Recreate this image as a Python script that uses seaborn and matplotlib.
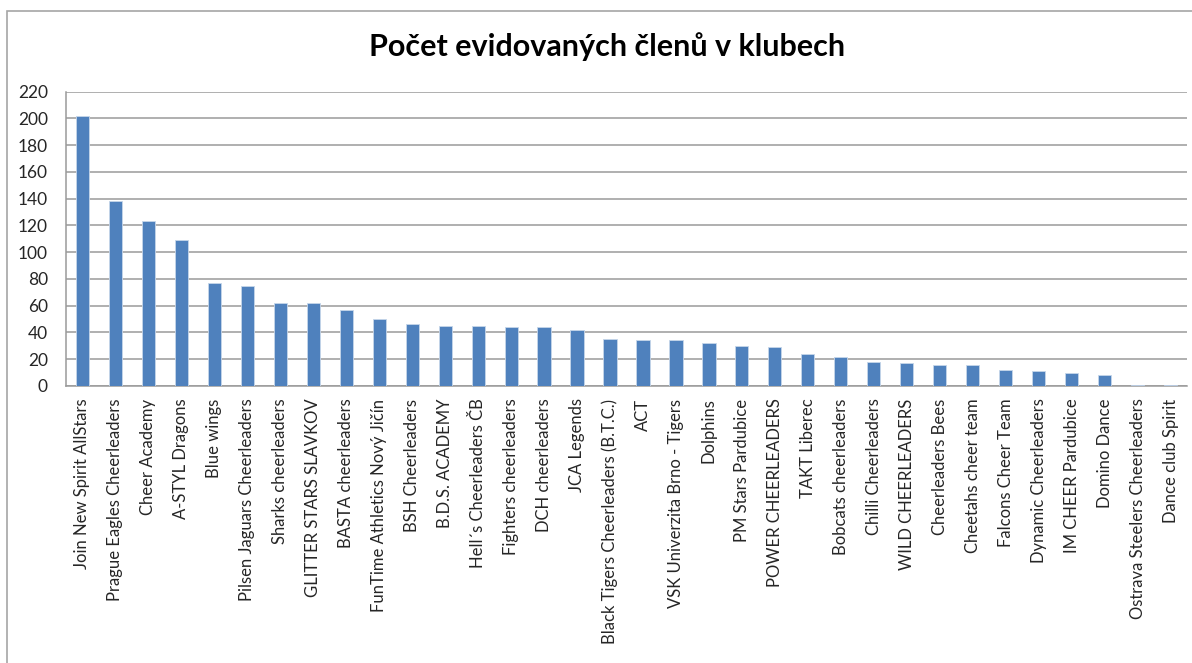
import matplotlib
matplotlib.use("Agg")
import matplotlib.pyplot as plt
import matplotlib.patches as patches
import pandas as pd
import seaborn as sns

clubs = [
    "Join New Spirit AllStars", "Prague Eagles Cheerleaders", "Cheer Academy", "A-STYL Dragons",
    "Blue wings", "Pilsen Jaguars Cheerleaders", "Sharks cheerleaders", "GLITTER STARS SLAVKOV",
    "BASTA cheerleaders", "FunTime Athletics Nový Jičín", "BSH Cheerleaders", "B.D.S. ACADEMY",
    "Hell´s Cheerleaders ČB", "Fighters cheerleaders", "DCH cheerleaders", "JCA Legends",
    "Black Tigers Cheerleaders (B.T.C.)", "ACT", "VSK Univerzita Brno - Tigers", "Dolphins",
    "PM Stars Pardubice", "POWER CHEERLEADERS", "TAKT Liberec", "Bobcats cheerleaders",
    "Chilli Cheerleaders", "WILD CHEERLEADERS", "Cheerleaders Bees", "Cheetahs cheer team",
    "Falcons Cheer Team", "Dynamic Cheerleaders", "IM CHEER Pardubice", "Domino Dance",
    "Ostrava Steelers Cheerleaders", "Dance club Spirit",
]
members = [202, 138, 123, 109, 77, 75, 62, 62, 57, 50, 46, 45, 45, 44, 44, 42, 35, 34, 34,
           32, 30, 29, 24, 22, 18, 17, 16, 16, 12, 11, 10, 8, 1, 1]
y_ticks = list(range(0, 221, 20))

sns.set_style("white")
plt.rcParams["font.family"] = ["Lato", "DejaVu Sans"]

df = pd.DataFrame({"club": clubs, "members": members})

fig = plt.figure(figsize=(11.92, 6.63), dpi=100)
ax = fig.add_axes([66 / 1192, 1 - 386 / 663, (1187 - 66) / 1192, (386 - 91.5) / 663])

# chart area border like the spreadsheet frame
fig.patches.append(patches.Rectangle((7 / 1192, -0.1), 1.2, 1.1 - 11 / 663, transform=fig.transFigure,
                                     fill=False, edgecolor="#a6a6a6", linewidth=1.2, zorder=0))

sns.barplot(data=df, x="club", y="members", color="#4f81bd", width=0.4, saturation=1, ax=ax, zorder=3)
for p in ax.patches:
    p.set_edgecolor("#c6d6ea")
    p.set_linewidth(0.6)

ax.set_ylim(0, 220)
ax.set_xlim(-0.5, len(clubs) - 0.5)
ax.set_yticks(y_ticks)
ax.yaxis.grid(True, color="#9a9a9a", linewidth=1.1)
ax.set_axisbelow(True)
ax.set_xlabel("")
ax.set_ylabel("")
ax.tick_params(axis="y", length=0, pad=13, labelsize=12.5)
ax.tick_params(axis="x", length=0, pad=9, labelsize=12, rotation=90)
for side in ["top", "right"]:
    ax.spines[side].set_visible(False)
for side in ["left", "bottom"]:
    ax.spines[side].set_color("#9a9a9a")
    ax.spines[side].set_linewidth(1.1)

fig.text(607 / 1192, 1 - 47 / 663, "Počet evidovaných členů v klubech", ha="center", va="center",
         fontsize=22, fontweight="bold", color="#000000")

fig.savefig("out.png", dpi=100)
